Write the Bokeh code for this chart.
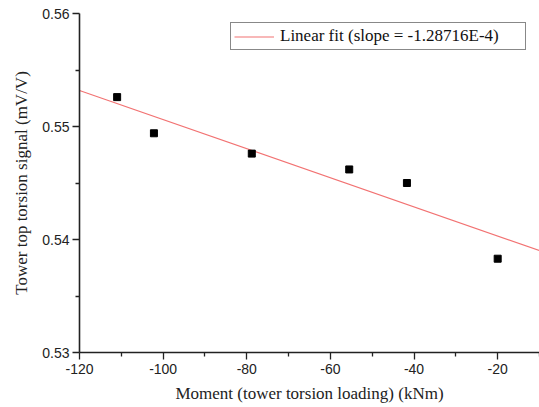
import numpy as np
from bokeh.plotting import figure
from bokeh.models import (Range1d, FixedTicker, PrintfTickFormatter, Legend, LegendItem,
                          ColumnDataSource)
from bokeh.embed import file_html
from bokeh.resources import INLINE

# ---- data ----
moment = [-111.0, -102.2, -78.8, -55.5, -41.7, -20.0]
signal = [0.5526, 0.5494, 0.5476, 0.5462, 0.5450, 0.5383]
fit_label = "Linear fit (slope = -1.28716E-4)"
x_ticks = [-120, -100, -80, -60, -40, -20]
x_minor = [-110, -90, -70, -50, -30, -10]
y_ticks = [0.53, 0.54, 0.55, 0.56]
y_minor = [0.535, 0.545, 0.555]
x_title = "Moment (tower torsion loading) (kNm)"
y_title = "Tower top torsion signal (mV/V)"

X0, X1 = -120, -10
Y0, Y1 = 0.53, 0.56

p = figure(width=539, height=407, output_backend="svg", toolbar_location=None,
           x_range=Range1d(X0, X1), y_range=Range1d(Y0, Y1),
           min_border_left=79, min_border_right=0, min_border_top=13, min_border_bottom=55)
p.outline_line_color = None
p.grid.visible = False
p.background_fill_color = "white"
p.border_fill_color = "white"

# linear fit computed from data
slope, intercept = np.polyfit(np.array(moment), np.array(signal), 1)
fx = np.array([X0, X1])
fy = slope * fx + intercept
r_line = p.line(fx, fy, line_color="#f27272", line_width=1.1)

src = ColumnDataSource(dict(x=moment, y=signal))
p.scatter("x", "y", source=src, marker="square", size=7, fill_color="black",
          line_color="black")

ax_col = "#222222"
for ax in (p.xaxis[0], p.yaxis[0]):
    ax.axis_line_color = ax_col
    ax.axis_line_width = 1.6
    ax.major_tick_line_color = ax_col
    ax.minor_tick_line_color = ax_col
    ax.major_tick_line_width = 1.3
    ax.minor_tick_line_width = 1.3
    ax.major_tick_out = 7
    ax.major_tick_in = 0
    ax.minor_tick_out = 4
    ax.minor_tick_in = 0
    ax.major_label_text_font = "Liberation Sans"
    ax.major_label_text_font_size = "14px"
    ax.major_label_text_color = "#222222"
    ax.axis_label_text_font = "Liberation Serif"
    ax.axis_label_text_font_style = "normal"
    ax.axis_label_text_font_size = "17px"
    ax.axis_label_text_color = "#222222"

p.xaxis[0].ticker = FixedTicker(ticks=x_ticks, minor_ticks=x_minor)
p.yaxis[0].ticker = FixedTicker(ticks=y_ticks, minor_ticks=y_minor)
p.xaxis[0].formatter = PrintfTickFormatter(format="%d")
p.yaxis[0].formatter = PrintfTickFormatter(format="%.2f")
p.xaxis[0].axis_label = x_title
p.yaxis[0].axis_label = y_title
p.xaxis[0].major_label_standoff = 4
p.xaxis[0].axis_label_standoff = 7
p.yaxis[0].major_label_standoff = 3
p.yaxis[0].axis_label_standoff = 8

legend = Legend(items=[LegendItem(label=fit_label, renderers=[r_line])],
                location=(151, 302), orientation="vertical")
legend.label_text_font = "Liberation Serif"
legend.label_text_font_size = "17px"
legend.label_text_color = "#111111"
legend.glyph_width = 40
legend.glyph_height = 19
legend.label_height = 19
legend.label_width = 242
legend.label_standoff = 6
legend.padding = 3
legend.spacing = 0
legend.margin = 0
legend.border_line_color = "#111111"
legend.border_line_width = 1.5
legend.background_fill_color = "white"
legend.background_fill_alpha = 1
p.add_layout(legend)

open("out.html", "w").write(file_html(p, INLINE))
